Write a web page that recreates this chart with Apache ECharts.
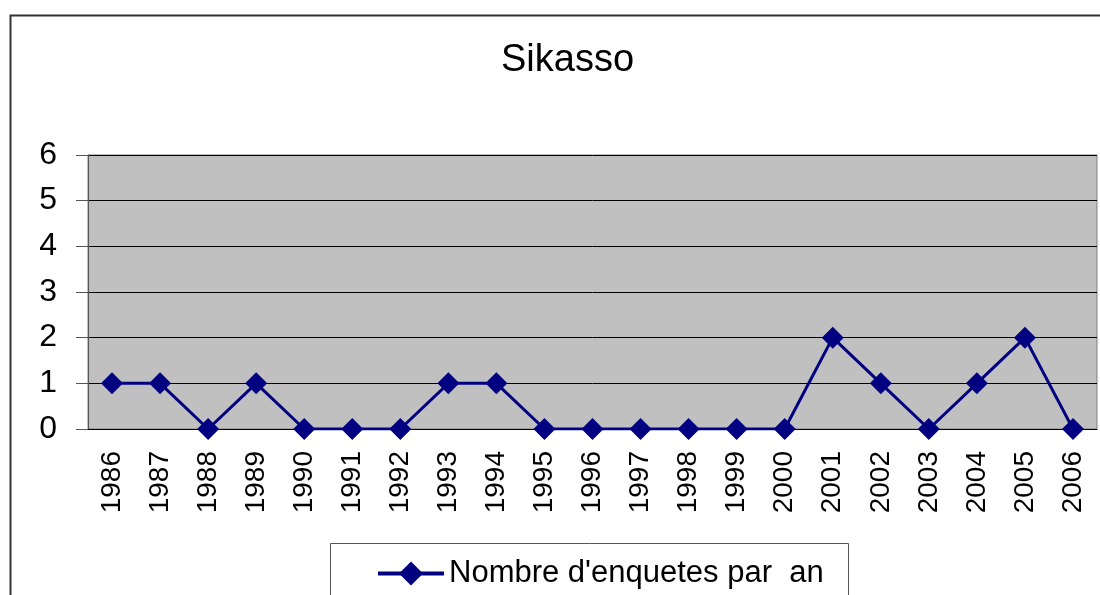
<!DOCTYPE html>
<html>
<head>
<meta charset="utf-8">
<script src="https://cdn.jsdelivr.net/npm/echarts@6/dist/echarts.min.js"></script>
<style>
  html, body { margin: 0; padding: 0; background: #fff; }
  #chart { width: 1100px; height: 595px; }
</style>
</head>
<body>
<div id="chart"></div>
<script>
// données
const years = ['1986', '1987', '1988', '1989', '1990', '1991', '1992', '1993', '1994', '1995', '1996',
  '1997', '1998', '1999', '2000', '2001', '2002', '2003', '2004', '2005', '2006']
const enquetes = [1, 1, 0, 1, 0, 0, 0, 1, 1, 0, 0, 0, 0, 0, 0, 2, 1, 0, 1, 2, 0]
const seriesName = "Nombre d'enquetes par  an"

const chart = echarts.init(document.getElementById('chart'))

const option = {
  animation: false,
  textStyle: { fontFamily: 'Liberation Sans, Arial, sans-serif' },
  title: {
    text: 'Sikasso',
    left: 496,
    top: 37,
    textStyle: { fontSize: 38, fontWeight: 'normal', color: '#000' }
  },
  graphic: [
    // cadre extérieur
    {
      type: 'rect',
      shape: { x: 10.5, y: 15.5, width: 1100, height: 600 },
      style: { fill: 'none', stroke: '#333', lineWidth: 2 },
      z: -10
    },
    // cadre de la légende
    {
      type: 'rect',
      shape: { x: 330.5, y: 543.5, width: 518, height: 80 },
      style: { fill: '#fff', stroke: '#555', lineWidth: 1 },
      z: -5
    }
  ],
  legend: {
    left: 371,
    top: 553,
    itemWidth: 66,
    itemHeight: 30,
    itemGap: 10,
    textStyle: { fontSize: 31, color: '#000' },
    lineStyle: { width: 4 },
    data: [seriesName]
  },
  grid: {
    left: 88,
    right: 3,
    top: 155,
    bottom: 166,
    show: true,
    backgroundColor: '#C0C0C0',
    borderColor: '#808080',
    borderWidth: 1
  },
  xAxis: {
    type: 'category',
    data: years,
    boundaryGap: true,
    axisLine: { lineStyle: { color: '#000', width: 1 } },
    axisTick: { length: 10, lineStyle: { color: '#555' } },
    axisLabel: { rotate: 90, fontSize: 28, color: '#000', margin: 22, interval: 0 }
  },
  yAxis: {
    type: 'value',
    min: 0,
    max: 6,
    interval: 1,
    axisLine: { show: true, lineStyle: { color: '#555', width: 1 } },
    axisTick: { show: true, length: 12, lineStyle: { color: '#555' } },
    axisLabel: { fontSize: 32, color: '#000', margin: 31 },
    splitLine: { lineStyle: { color: '#000', width: 1 } }
  },
  series: [
    {
      name: seriesName,
      type: 'line',
      data: enquetes,
      symbol: 'diamond',
      symbolSize: 22,
      itemStyle: { color: '#000080' },
      lineStyle: { color: '#000080', width: 3 }
    }
  ]
}

chart.setOption(option)
</script>
</body>
</html>
